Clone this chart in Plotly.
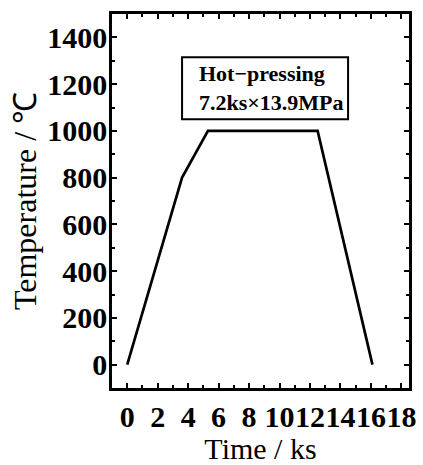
import plotly.graph_objects as go

time_ks = [0, 3.6, 5.3, 12.5, 16.1]
temperature_c = [0, 800, 1000, 1000, 0]
x_ticks = [0, 2, 4, 6, 8, 10, 12, 14, 16, 18]
y_ticks = [0, 200, 400, 600, 800, 1000, 1200, 1400]
box_text = "Hot\u2212pressing<br>7.2ks\u00d713.9MPa"

FONT = "Liberation Serif"

fig = go.Figure()
fig.add_trace(go.Scatter(x=time_ks, y=temperature_c, mode="lines",
                         line=dict(color="black", width=2.7), showlegend=False))

axis_common = dict(showline=True, linecolor="black", linewidth=2.5, mirror="allticks",
                   ticks="inside", tickcolor="black", ticklen=5, tickwidth=2,
                   showgrid=False, zeroline=False, ticklabeloverflow="allow")

fig.update_xaxes(range=[-1, 18.5], tickvals=x_ticks, tickangle=0,
                 tickfont=dict(family=FONT, size=30, color="black", weight="bold"),
                 minor=dict(dtick=1, tick0=0, ticks="inside", ticklen=3, tickcolor="black", tickwidth=1.5),
                 title=dict(text="Time / ks", font=dict(family=FONT, size=30, color="black"), standoff=4),
                 **axis_common)
fig.update_yaxes(range=[-100, 1500], tickvals=y_ticks, ticklabelstandoff=-4,
                 tickfont=dict(family=FONT, size=30, color="black", weight="bold"),
                 minor=dict(dtick=100, tick0=0, ticks="inside", ticklen=3, tickcolor="black", tickwidth=1.5),
                 title=dict(text="Temperature / \u2103", font=dict(family=FONT, size=32, color="black"), standoff=2),
                 **axis_common)

# label box
fig.add_shape(type="rect", xref="x", yref="y", x0=3.6, x1=14.5, y0=1050, y1=1315,
              line=dict(color="black", width=2), fillcolor="white", layer="above")
fig.add_annotation(x=4.6, y=1182, xref="x", yref="y", xanchor="left", yanchor="middle",
                   text=box_text, showarrow=False, align="left",
                   font=dict(family=FONT, size=22, color="black", weight="bold"))

fig.update_layout(width=423, height=465, margin=dict(l=112, r=7, t=14, b=71),
                  plot_bgcolor="white", paper_bgcolor="white")

fig.write_html("out.html")
